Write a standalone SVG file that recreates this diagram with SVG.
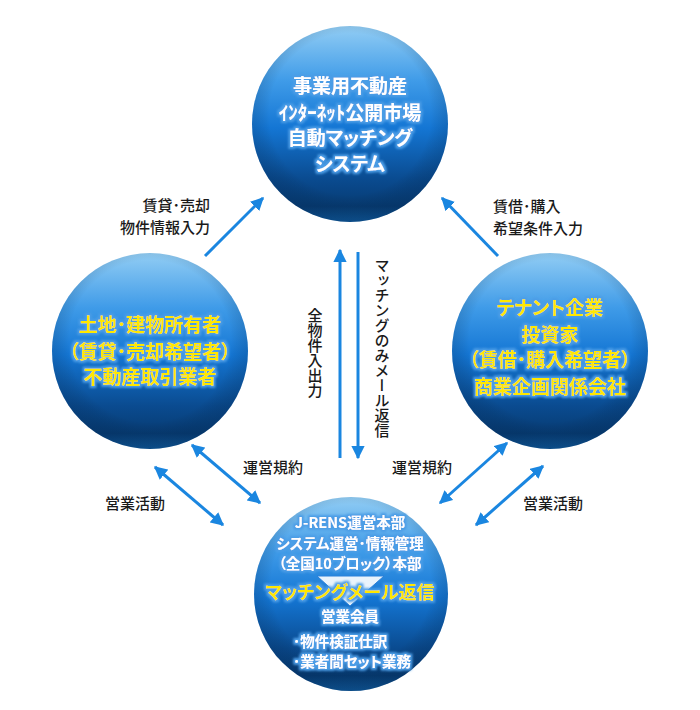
<svg xmlns="http://www.w3.org/2000/svg" width="700" height="710" viewBox="0 0 700 710">
<defs>
<linearGradient id="ball" x1="0" y1="0" x2="0" y2="1">
<stop offset="0" stop-color="#92cdf4"/>
<stop offset="0.28" stop-color="#3f9be8"/>
<stop offset="0.52" stop-color="#1476d4"/>
<stop offset="0.78" stop-color="#0a4b90"/>
<stop offset="0.92" stop-color="#073c74"/>
<stop offset="1" stop-color="#105a9c"/>
</linearGradient>
<radialGradient id="shade" cx="0.5" cy="0.45" r="0.55">
<stop offset="0.75" stop-color="#000" stop-opacity="0"/>
<stop offset="1" stop-color="#02264f" stop-opacity="0.25"/>
</radialGradient>
<filter id="glow" x="-10%" y="-30%" width="120%" height="160%">
<feMorphology in="SourceAlpha" operator="dilate" radius="1.8" result="d"/>
<feFlood flood-color="#4c9de6"/>
<feComposite in2="d" operator="in" result="c"/>
<feGaussianBlur in="c" stdDeviation="0.8" result="b"/>
<feMerge><feMergeNode in="b"/><feMergeNode in="SourceGraphic"/></feMerge>
</filter>
<marker id="ah" viewBox="0 0 10 10" refX="9" refY="5" markerWidth="4.4" markerHeight="4.4" orient="auto-start-reverse">
<path d="M0,0 L10,5 L0,10 z" fill="#1a86e0"/>
</marker>
<style>
.ball{fill:url(#ball)}
.sh{fill:url(#shade)}
.t{font-family:"Noto Sans CJK JP","Noto Sans CJK SC",sans-serif;font-weight:bold;text-anchor:middle;font-feature-settings:"palt"}
.w{fill:#fff}
.y{fill:#ffe800}
.lab{font-family:"Noto Sans CJK JP","Noto Sans CJK SC",sans-serif;font-size:15px;font-weight:500;fill:#1a1a1a;font-feature-settings:"palt"}
.vt{font-family:"Noto Sans CJK JP","Noto Sans CJK SC",sans-serif;font-size:15px;font-weight:500;fill:#1a1a1a;writing-mode:vertical-rl}
.ar{stroke:#1a86e0;stroke-width:3;fill:none}
</style>
</defs>
<rect width="700" height="710" fill="#fff"/>

<g id="connectors">
<line class="ar" x1="205" y1="256" x2="263" y2="198" marker-end="url(#ah)"/>
<line class="ar" x1="498" y1="256" x2="442" y2="198" marker-end="url(#ah)"/>
<line class="ar" x1="340" y1="458" x2="340" y2="250" marker-end="url(#ah)"/>
<line class="ar" x1="358" y1="252" x2="358" y2="458" marker-end="url(#ah)"/>
<line class="ar" x1="192" y1="445" x2="260" y2="503" marker-start="url(#ah)" marker-end="url(#ah)"/>
<line class="ar" x1="155" y1="467" x2="223" y2="525" marker-start="url(#ah)" marker-end="url(#ah)"/>
<line class="ar" x1="507" y1="443" x2="440" y2="503" marker-start="url(#ah)" marker-end="url(#ah)"/>
<line class="ar" x1="543" y1="466" x2="476" y2="525" marker-start="url(#ah)" marker-end="url(#ah)"/>
<text class="lab" x="210" y="211" text-anchor="end">賃貸･売却</text>
<text class="lab" x="210" y="233" text-anchor="end">物件情報入力</text>
<text class="lab" x="493" y="212" text-anchor="start">賃借･購入</text>
<text class="lab" x="493" y="234" text-anchor="start">希望条件入力</text>
<text class="vt" x="315" y="308">全物件入出力</text>
<text class="vt" x="382" y="258">マッチングのみメール返信</text>
<text class="lab" x="243" y="473">運営規約</text>
<text class="lab" x="392" y="473">運営規約</text>
<text class="lab" x="105" y="509">営業活動</text>
<text class="lab" x="523" y="509">営業活動</text>
</g>

<g id="n-top">
<circle class="ball" cx="350" cy="124" r="98"/>
<circle class="sh" cx="350" cy="124" r="98"/>
<g class="t w" font-size="19" filter="url(#glow)">
<text x="350" y="93">事業用不動産</text>
<text x="350" y="120">ｲﾝﾀｰﾈｯﾄ公開市場</text>
<text x="350" y="145">自動マッチング</text>
<text x="350" y="171">システム</text>
</g>
</g>

<g id="n-left">
<circle class="ball" cx="150" cy="351" r="98"/>
<circle class="sh" cx="150" cy="351" r="98"/>
<g class="t y" font-size="19" filter="url(#glow)">
<text x="150" y="332">土地･建物所有者</text>
<text x="150" y="359">（賃貸･売却希望者）</text>
<text x="150" y="384">不動産取引業者</text>
</g>
</g>

<g id="n-right">
<circle class="ball" cx="550" cy="351" r="98"/>
<circle class="sh" cx="550" cy="351" r="98"/>
<g class="t y" font-size="19" filter="url(#glow)">
<text x="550" y="315">テナント企業</text>
<text x="550" y="342">投資家</text>
<text x="550" y="367">（賃借･購入希望者）</text>
<text x="550" y="394">商業企画関係会社</text>
</g>
</g>

<g id="n-bottom">
<circle class="ball" cx="351" cy="594" r="97"/>
<circle class="sh" cx="351" cy="594" r="97"/>
<polygon points="317,576 384,576 350,606" fill="#ffffff" fill-opacity="0.9" stroke="#2a80d8" stroke-width="1"/>
<g class="t w" font-size="14.5" filter="url(#glow)">
<text x="350" y="528">J-RENS運営本部</text>
<text x="350" y="549">システム運営･情報管理</text>
<text x="350" y="569">（全国10ブロック）本部</text>
<text x="350" y="622">営業会員</text>
<text x="293" y="647" text-anchor="start">･物件検証仕訳</text>
<text x="293" y="667" text-anchor="start">･業者間セット業務</text>
</g>
<text class="t y" x="350" y="599" font-size="18" filter="url(#glow)">マッチングメール返信</text>
</g>
</svg>
